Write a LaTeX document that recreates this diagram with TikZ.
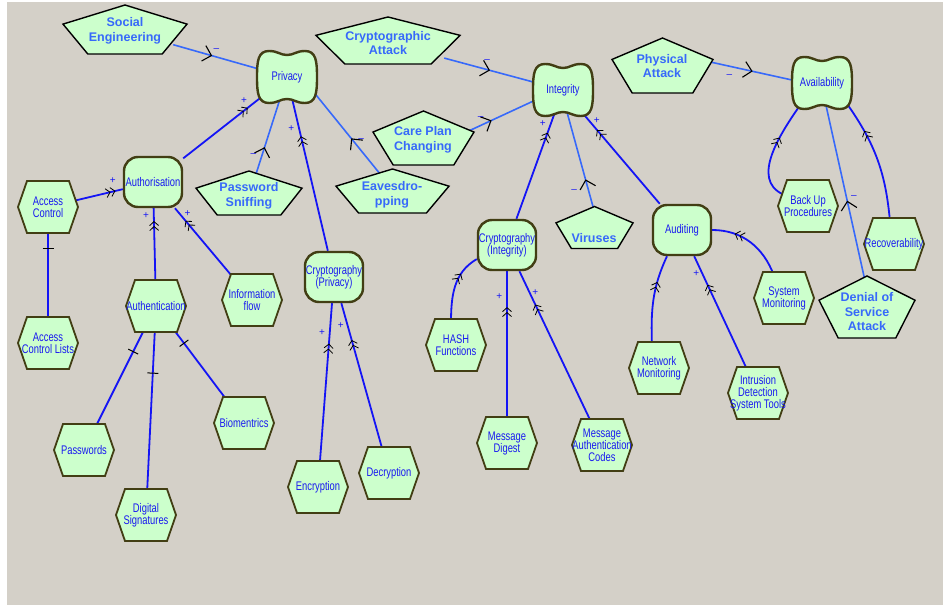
\documentclass[tikz,border=0pt]{standalone}
\usepackage{fontspec}
\setmainfont{Liberation Sans}
\newfontfamily\narrowfont[FakeStretch=0.75]{Liberation Sans}
\usetikzlibrary{arrows.meta,decorations.markings,backgrounds}

\definecolor{bggray}{RGB}{212,208,200}
\definecolor{leafgreen}{RGB}{204,255,204}
\definecolor{olivedark}{RGB}{66,62,20}
\definecolor{linkblue}{RGB}{20,20,245}
\definecolor{attackblue}{RGB}{55,105,250}
\definecolor{txtblue}{RGB}{25,25,240}

\tikzset{
  goal/.style={minimum width=54pt, minimum height=42pt, inner sep=0pt, align=center,
    text=txtblue, font=\narrowfont\fontsize{12.5}{12}\selectfont},
  task/.style={draw=olivedark, fill=leafgreen, line width=2.4pt, rounded corners=14pt,
    minimum width=58pt, minimum height=50pt, inner sep=0pt, align=center,
    text=txtblue, font=\narrowfont\fontsize{12.5}{12}\selectfont},
  hexa/.style={minimum width=50pt, minimum height=44pt, inner sep=0pt, align=center,
    text=txtblue, font=\narrowfont\fontsize{12.5}{12}\selectfont},
  attack/.style={inner sep=0pt, align=center, text=attackblue,
    font=\bfseries\fontsize{12.5}{14.5}\selectfont},
  sign/.style={text=linkblue, inner sep=1pt, font=\fontsize{10}{10}\selectfont},
  negarc/.style={draw=attackblue, line width=1.6pt, postaction={decorate},
    decoration={markings, mark=at position #1 with
      {\arrow[black]{Straight Barb[length=8pt,width=16pt,line width=1.1pt]}}}},
  negarc/.default=0.45,
  posarc/.style={draw=linkblue, line width=1.8pt, postaction={decorate},
    decoration={markings, mark=at position #1 with
      {\arrow[black]{Straight Barb[length=4pt,width=9pt,line width=0.8pt] Straight Barb[length=4pt,width=9pt,line width=0.8pt]}}}},
  posarc/.default=0.78,
  decomp/.style={draw=linkblue, line width=1.8pt, postaction={decorate},
    decoration={markings, mark=at position #1 with
      {\arrow[black]{Bar[width=11pt,line width=1pt]}}}},
  decomp/.default=0.77
}

% outlines drawn behind the text nodes
\newcommand{\hexat}[1]{\filldraw[fill=leafgreen,draw=olivedark,line width=1.8pt,shift={(#1)}]
  (-30,0) -- (-21,-26) -- (21,-26) -- (30,0) -- (21,26) -- (-21,26) -- cycle;}
\newcommand{\pentat}[3]{\filldraw[fill=leafgreen,draw=black,line width=1.4pt,shift={(#1)},xscale=#2,yscale=#3]
  (0,-0.5) -- (0.5,-0.11) -- (0.3,0.5) -- (-0.3,0.5) -- (-0.5,-0.11) -- cycle;}
\newcommand{\goalat}[1]{\filldraw[fill=leafgreen,draw=olivedark,line width=2.4pt,shift={(#1)}]
  (-30,0) .. controls (-30,-16) and (-29,-26) .. (-18,-26)
  .. controls (-9,-26) and (-7,-22) .. (0,-22)
  .. controls (7,-22) and (9,-26) .. (18,-26)
  .. controls (29,-26) and (30,-16) .. (30,0)
  .. controls (30,16) and (29,26) .. (18,26)
  .. controls (9,26) and (7,22) .. (0,22)
  .. controls (-7,22) and (-9,26) .. (-18,26)
  .. controls (-29,26) and (-30,16) .. (-30,0) -- cycle;}

\begin{document}
\begin{tikzpicture}[x=1pt, y=-1pt]
  \useasboundingbox (0,0) rectangle (945,607);

  % goals
  \goalat{287,77}  \node[goal] (priv) at (287,77) {Privacy};
  \goalat{563,90}  \node[goal] (integ) at (563,90) {Integrity};
  \goalat{822,83}  \node[goal] (avail) at (822,83) {Availability};

  \node[task] (authz) at (153,182) {Authorisation};
  \node[task] (cryptp) at (334,277) {Cryptography\\(Privacy)};
  \node[task] (crypti) at (507,245) {Cryptography\\(Integrity)};
  \node[task] (audit) at (682,230) {Auditing};

  % leaves
  \hexat{48,207}  \node[hexa] (acc) at (48,207) {Access\\Control};
  \hexat{48,343}  \node[hexa] (acl) at (48,343) {Access\\Control Lists};
  \hexat{156,306} \node[hexa] (authn) at (156,306) {Authentication};
  \hexat{252,300} \node[hexa] (info) at (252,300) {Information\\flow};
  \hexat{84,450}  \node[hexa] (pwd) at (84,450) {Passwords};
  \hexat{244,423} \node[hexa] (bio) at (244,423) {Biomentrics};
  \hexat{146,515} \node[hexa] (dsig) at (146,515) {Digital\\Signatures};
  \hexat{318,487} \node[hexa] (enc) at (318,487) {Encryption};
  \hexat{389,473} \node[hexa] (dec) at (389,473) {Decryption};
  \hexat{456,345} \node[hexa] (hash) at (456,345) {HASH\\Functions};
  \hexat{507,443} \node[hexa] (mdig) at (507,443) {Message\\Digest};
  \hexat{602,445} \node[hexa] (mac) at (602,445) {Message\\Authentication\\Codes};
  \hexat{659,368} \node[hexa] (netmon) at (659,368) {Network\\Monitoring};
  \hexat{758,393} \node[hexa] (ids) at (758,393) {Intrusion\\Detection\\System Tools};
  \hexat{784,298} \node[hexa] (sysmon) at (784,298) {System\\Monitoring};
  \hexat{808,206} \node[hexa] (backup) at (808,206) {Back Up\\Procedures};
  \hexat{894,244} \node[hexa] (recov) at (894,244) {Recoverability};

  % attacks
  \pentat{125,29.5}{124}{49}  \node[attack, minimum width=96pt, minimum height=36pt] (soceng) at (125,31) {Social\\Engineering};
  \pentat{388,40.5}{144}{47}  \node[attack, minimum width=112pt, minimum height=34pt] (cryatt) at (388,43) {Cryptographic\\Attack};
  \pentat{423.5,138}{101}{54} \node[attack, minimum width=78pt, minimum height=40pt] (care) at (423,140) {Care Plan\\Changing};
  \pentat{392.5,191}{113}{44} \node[attack, minimum width=84pt, minimum height=32pt] (eaves) at (392,195) {Eavesdro-\\pping};
  \pentat{249,193}{106}{44}   \node[attack, minimum width=80pt, minimum height=32pt] (pwdsniff) at (249,196) {Password\\Sniffing};
  \pentat{662.5,65.5}{101}{55} \node[attack, minimum width=78pt, minimum height=40pt] (phys) at (662,66) {Physical\\Attack};
  \pentat{594.5,227.5}{77}{42} \node[attack, minimum width=56pt, minimum height=26pt] (viruses) at (594,238) {Viruses};
  \pentat{867,307}{96}{62}    \node[attack, minimum width=72pt, minimum height=44pt] (denial) at (867,312) {Denial of\\Service\\Attack};

  \begin{pgfonlayer}{background}
    \fill[bggray] (7,2) rectangle (943,605);

    \draw[negarc=0.45] (soceng) -- (priv) node[sign, pos=0.5, above=4pt] {\textendash};
    \draw[negarc=0.5] (cryatt) -- (integ) node[sign, pos=0.47, above=5pt] {\textendash};
    \draw[negarc=0.4] ([yshift=6pt]care.east) -- (integ.200) node[sign, pos=0.25, above=4pt] {\textendash};
    \draw[negarc=0.55] ([yshift=6pt]phys.east) -- (avail.175) node[sign, pos=0.3, below=7pt] {\textendash};
    \draw[negarc=0.4] (pwdsniff) -- (priv) node[sign, pos=0.3, left=4pt] {\textendash};
    \draw[negarc=0.47] ([xshift=-8pt]eaves.north) -- (priv.-30) node[sign, pos=0.45, right=4pt] {\textendash};
    \draw[negarc=0.4] ([xshift=4pt]viruses.north) -- (integ.-80) node[sign, pos=0.3, left=10pt] {\textendash};
    \draw[negarc=0.48] (denial.north) -- (avail.-80) node[sign, pos=0.5, right=3pt] {\textendash};

    \draw[posarc=0.84] (authz) -- (priv) node[sign, pos=0.87, above left=1pt] {+};
    \draw[posarc=0.75] (cryptp) -- (priv) node[sign, pos=0.8, left=3pt] {+};
    \draw[posarc=0.85] (acc) -- (authz) node[sign, pos=0.8, above=6pt] {+};
    \draw[posarc=0.83] (authn) -- (authz) node[sign, pos=0.9, left=3pt] {+};
    \draw[posarc=0.82] (info) -- (authz) node[sign, pos=0.92, right=3pt] {+};
    \draw[posarc=0.75] (enc) -- (cryptp) node[sign, pos=0.82, left=3pt] {+};
    \draw[posarc=0.75] (dec) -- (cryptp) node[sign, pos=0.85, left=2pt] {+};
    \draw[posarc=0.8] (crypti) -- (integ) node[sign, pos=0.88, left=3pt] {+};
    \draw[posarc=0.8] (audit) -- (integ) node[sign, pos=0.9, right=3pt] {+};
    \draw[posarc=0.7] ([xshift=-5pt]hash.north) to[out=90, in=210] (crypti.205) node[sign, pos=0.8, left=3pt] {+};
    \draw[posarc=0.76] (mdig) -- (crypti) node[sign, pos=0.83, left=3pt] {+};
    \draw[posarc=0.78] (mac) -- (crypti) node[sign, pos=0.86, right=1pt] {+};
    \draw[posarc=0.7] ([xshift=-7pt]netmon.north) to[out=92, in=245] ([xshift=-15pt]audit.south) node[sign, pos=0.8, left=3pt] {+};
    \draw[posarc=0.75] (ids) -- (audit) node[sign, pos=0.85, left=1pt] {+};
    \draw[posarc=0.72] ([xshift=-10pt]sysmon.north) to[out=110, in=0] (audit.east) node[sign, pos=0.75, above=4pt] {+};
    \draw[posarc=0.62] (backup.155) to[out=155, in=235] (avail.225) node[sign, pos=0.68, left=3pt] {+};
    \draw[posarc=0.75] ([xshift=-4pt]recov.north) to[out=95, in=-55] (avail.-40) node[sign, pos=0.82, left=3pt] {+};

    \draw[decomp=0.79] (acl) -- (acc);
    \draw[decomp=0.77] (pwd) -- (authn);
    \draw[decomp=0.73] (dsig) -- (authn);
    \draw[decomp=0.8] (bio) -- (authn);
  \end{pgfonlayer}
\end{tikzpicture}
\end{document}
